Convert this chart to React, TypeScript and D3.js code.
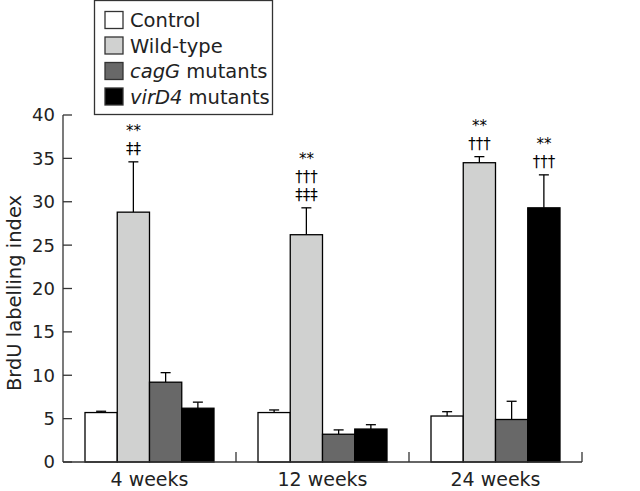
import React from 'react';
import * as d3 from 'd3';

const categories = ['4 weeks', '12 weeks', '24 weeks'];
const seriesNames = ['Control', 'Wild-type', 'cagG mutants', 'virD4 mutants'];
const seriesItalic = ['', '', 'cagG', 'virD4'];
const seriesColors = ['#ffffff', '#d0d1d0', '#686868', '#000000'];

const controlValues = [5.7, 5.7, 5.3];
const controlErrors = [0.15, 0.3, 0.5];
const wildValues = [28.8, 26.2, 34.5];
const wildErrors = [5.8, 3.1, 0.7];
const cagGValues = [9.2, 3.2, 4.9];
const cagGErrors = [1.1, 0.5, 2.1];
const virD4Values = [6.2, 3.8, 29.3];
const virD4Errors = [0.7, 0.5, 3.8];

const wildMarks = [['**', '‡‡'], ['**', '†††', '‡‡‡'], ['**', '†††']];
const virD4Marks = [[], [], ['**', '†††']];
const emptyMarks = [[], [], []];

const yTicks = [0, 5, 10, 15, 20, 25, 30, 35, 40];

const W = 640, H = 491;
const X0 = 63, X1 = 582, Y0 = 462, Y1 = 115;
const FONT = 'DejaVu Sans, sans-serif';

export default function App() {
  const values = [controlValues, wildValues, cagGValues, virD4Values];
  const errors = [controlErrors, wildErrors, cagGErrors, virD4Errors];
  const marks = [emptyMarks, wildMarks, emptyMarks, virD4Marks];

  const x = d3.scaleBand<string>().domain(categories).range([X0, X1]).padding(0);
  const bw = x.bandwidth();
  const inner = d3.scaleBand<string>().domain(seriesNames).range([22, bw - 22]).padding(0);
  const y = d3.scaleLinear().domain([0, 40]).range([Y0, Y1]);

  return (
    <svg width={W} height={H} style={{ position: 'absolute', left: 0, top: 0, background: '#fff' }} fontFamily={FONT}>
      <rect x={0} y={0} width={W} height={H} fill="#fff" />
      {categories.map((c, ci) => (
        <g key={c}>
          {seriesNames.map((s, si) => {
            const v = values[si][ci];
            const e = errors[si][ci];
            const bx = (x(c) as number) + (inner(s) as number);
            const cx = bx + inner.bandwidth() / 2;
            const ey = y(v + e);
            const m = marks[si][ci];
            return (
              <g key={s}>
                <line x1={cx} x2={cx} y1={y(v)} y2={ey} stroke="#000" strokeWidth={1.3} />
                <line x1={cx - 5} x2={cx + 5} y1={ey} y2={ey} stroke="#000" strokeWidth={1.3} />
                <rect x={bx} y={y(v)} width={inner.bandwidth()} height={Y0 - y(v)} fill={seriesColors[si]} stroke="#000" strokeWidth={1.3} />
                {m.map((t, ti) => (
                  <text key={ti} x={cx} y={ey - 8 - (m.length - 1 - ti) * 18} textAnchor="middle" fontSize={15} fill="#000">{t}</text>
                ))}
              </g>
            );
          })}
        </g>
      ))}
      <line x1={X0} x2={X0} y1={Y1} y2={Y0} stroke="#333" strokeWidth={1.3} />
      {yTicks.map(t => (
        <g key={t}>
          <line x1={X0} x2={X0 + 9} y1={y(t)} y2={y(t)} stroke="#333" strokeWidth={1.3} />
          <text x={X0 - 8} y={y(t)} dy="0.36em" textAnchor="end" fontSize={18} fill="#222">{t}</text>
        </g>
      ))}
      <text transform={`translate(${21},${293}) rotate(-90)`} textAnchor="middle" fontSize={19.5} fill="#222">BrdU labelling index</text>
      <line x1={X0} x2={X1} y1={Y0} y2={Y0} stroke="#333" strokeWidth={1.3} />
      {categories.map(c => (
        <g key={c}>
          <line x1={(x(c) as number) + bw} x2={(x(c) as number) + bw} y1={Y0} y2={Y0 - 10} stroke="#333" strokeWidth={1.3} />
          <text x={(x(c) as number) + bw / 2} y={486} textAnchor="middle" fontSize={19} fill="#222">{c}</text>
        </g>
      ))}
      <rect x={94.5} y={0.5} width={178} height={114} fill="#fff" stroke="#333" strokeWidth={1.3} />
      {seriesNames.map((s, si) => {
        const ry = 20 + si * 25.5;
        const it = seriesItalic[si];
        return (
          <g key={s}>
            <rect x={105} y={ry - 8.5} width={18} height={17} fill={seriesColors[si]} stroke="#333" strokeWidth={1.3} />
            <text x={130} y={ry} dy="0.36em" fontSize={19.5} fill="#222">
              {it ? <><tspan fontStyle="italic">{it}</tspan>{s.slice(it.length)}</> : s}
            </text>
          </g>
        );
      })}
    </svg>
  );
}
